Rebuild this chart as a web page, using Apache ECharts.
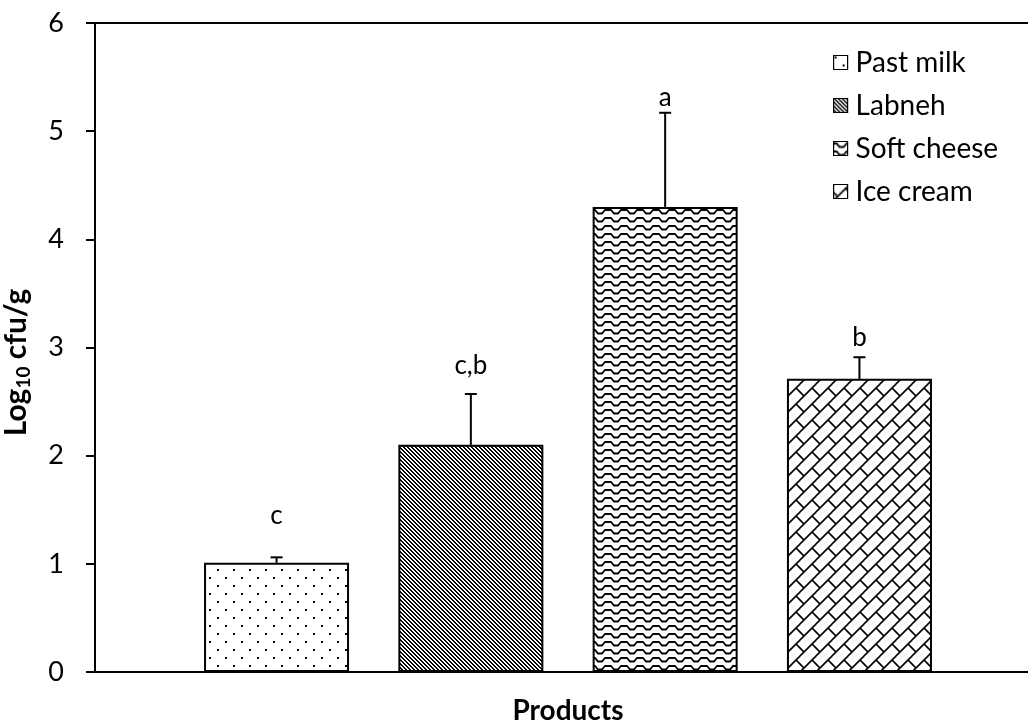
<!DOCTYPE html>
<html>
<head>
<meta charset="utf-8">
<script src="https://cdn.jsdelivr.net/npm/echarts@6/dist/echarts.min.js"></script>
<style>html,body{margin:0;padding:0;background:#fff;}#c{width:1028px;height:725px;}</style>
</head>
<body>
<div id="c"></div>
<script>
// ---- data ----
const categories = ['Past milk', 'Labneh', 'Soft cheese', 'Ice cream'];
const means = [1.01, 2.10, 4.30, 2.71];
const errors = [0.05, 0.47, 0.87, 0.20];
const letters = ['c', 'c,b', 'a', 'b'];
const letterY = [1.45, 2.83, 5.31, 3.09];
const yTicks = [0, 1, 2, 3, 4, 5, 6];

// ---- styles ----
const FONT = 'Lato, "Open Sans", sans-serif';
const BAR_W = 145;
const BAR_GAP = 0.34;

function tile(w, h, draw) {
  const c = document.createElement('canvas');
  c.width = w; c.height = h;
  const g = c.getContext('2d');
  g.fillStyle = '#fff'; g.fillRect(0, 0, w, h);
  g.fillStyle = '#000'; g.strokeStyle = '#000';
  draw(g);
  return { image: c, repeat: 'repeat' };
}
const patDots = tile(16, 16, g => { g.fillRect(1, 1, 2, 2); g.fillRect(9, 9, 2, 2); });
const patDiag = tile(4, 4, g => {
  for (let k = 0; k < 4; k++) { g.fillRect(k, k, 1, 1); g.fillRect((k + 1) % 4, k, 1, 1); }
});
const patWave = tile(16, 8, g => {
  g.lineWidth = 1.8;
  g.beginPath();
  g.moveTo(-1, 2); g.lineTo(3, 2); g.lineTo(6, 5.5); g.lineTo(10, 5.5); g.lineTo(13, 2); g.lineTo(17, 2);
  g.stroke();
});
const patBrick = tile(16, 16, g => {
  g.lineWidth = 1.6;
  for (const s of [-16, 0, 16]) {
    g.beginPath(); g.moveTo(s - 1, 17); g.lineTo(s + 17, -1); g.stroke();
  }
  g.beginPath(); g.moveTo(12, 4); g.lineTo(17, 9); g.stroke();
  g.beginPath(); g.moveTo(-1, 7); g.lineTo(4, 12); g.stroke();
});
const patterns = [patDots, patDiag, patWave, patBrick];

const chart = echarts.init(document.getElementById('c'));

const barSeries = categories.map((name, i) => ({
  name: name,
  type: 'bar',
  barWidth: BAR_W,
  barGap: (BAR_GAP * 100) + '%',
  data: [means[i]],
  itemStyle: { color: patterns[i], borderColor: '#000', borderWidth: 2 },
  emphasis: { disabled: true },
  animation: false
}));

const errData = categories.map((c, i) => [0, means[i], means[i] + errors[i], letterY[i], i]);

const errSeries = {
  name: 'err',
  type: 'custom',
  z: 10,
  animation: false,
  data: errData,
  renderItem: function (params, api) {
    const i = api.value(4);
    const base = api.coord([0, api.value(1)]);
    const top = api.coord([0, api.value(2)]);
    const lab = api.coord([0, api.value(3)]);
    const cx = base[0] + (i - 1.5) * BAR_W * (1 + BAR_GAP);
    const ls = { stroke: '#000', lineWidth: 2 };
    return {
      type: 'group',
      children: [
        { type: 'line', shape: { x1: cx, y1: base[1], x2: cx, y2: top[1] }, style: ls },
        { type: 'line', shape: { x1: cx - 6, y1: top[1], x2: cx + 6, y2: top[1] }, style: ls },
        { type: 'text', x: cx, y: lab[1], style: { text: letters[i], fill: '#000', font: '26px ' + FONT, align: 'center', verticalAlign: 'middle' } }
      ]
    };
  }
};

chart.setOption({
  backgroundColor: '#fff',
  animation: false,
  textStyle: { fontFamily: FONT },
  grid: { left: 95, right: -13, top: 23, bottom: 53, containLabel: false, outerBoundsMode: 'none', show: true, borderColor: '#000', borderWidth: 2, backgroundColor: 'transparent' },
  legend: {
    orient: 'vertical',
    left: 828,
    top: 42,
    data: categories,
    icon: 'rect',
    itemWidth: 14,
    itemHeight: 14,
    itemGap: 12,
    itemStyle: { borderColor: '#000', borderWidth: 1.2 },
    textStyle: { fontSize: 28, color: '#000', fontFamily: FONT, lineHeight: 31, padding: [0, 0, 0, 3] },
    selectedMode: false
  },
  xAxis: {
    type: 'category',
    data: [''],
    name: 'Products',
    nameLocation: 'middle',
    nameGap: 25,
    nameTextStyle: { fontSize: 28, fontWeight: 'bold', color: '#000', fontFamily: FONT, verticalAlign: 'top' },
    axisLine: { lineStyle: { color: '#000', width: 2 } },
    axisTick: { show: false },
    axisLabel: { show: false }
  },
  yAxis: {
    type: 'value',
    min: yTicks[0],
    max: yTicks[yTicks.length - 1],
    interval: 1,
    name: '{a|Log}{s|10}{a| cfu/g}',
    nameLocation: 'middle',
    nameGap: 62,
    nameRotate: 90,
    nameTextStyle: {
      color: '#000',
      padding: [0, 30, 0, 0],
      rich: {
        a: { fontSize: 30, fontWeight: 'bold', fontFamily: FONT, color: '#000', lineHeight: 34 },
        s: { fontSize: 19, fontWeight: 'bold', fontFamily: FONT, color: '#000', lineHeight: 19, verticalAlign: 'bottom' }
      }
    },
    axisLine: { show: true, lineStyle: { color: '#000', width: 2 } },
    axisTick: { show: true, length: 9, lineStyle: { color: '#000', width: 2 } },
    axisLabel: { fontSize: 27, color: '#000', fontFamily: FONT, margin: 31 },
    splitLine: { show: false }
  },
  series: barSeries.concat([errSeries])
});
</script>
</body>
</html>
